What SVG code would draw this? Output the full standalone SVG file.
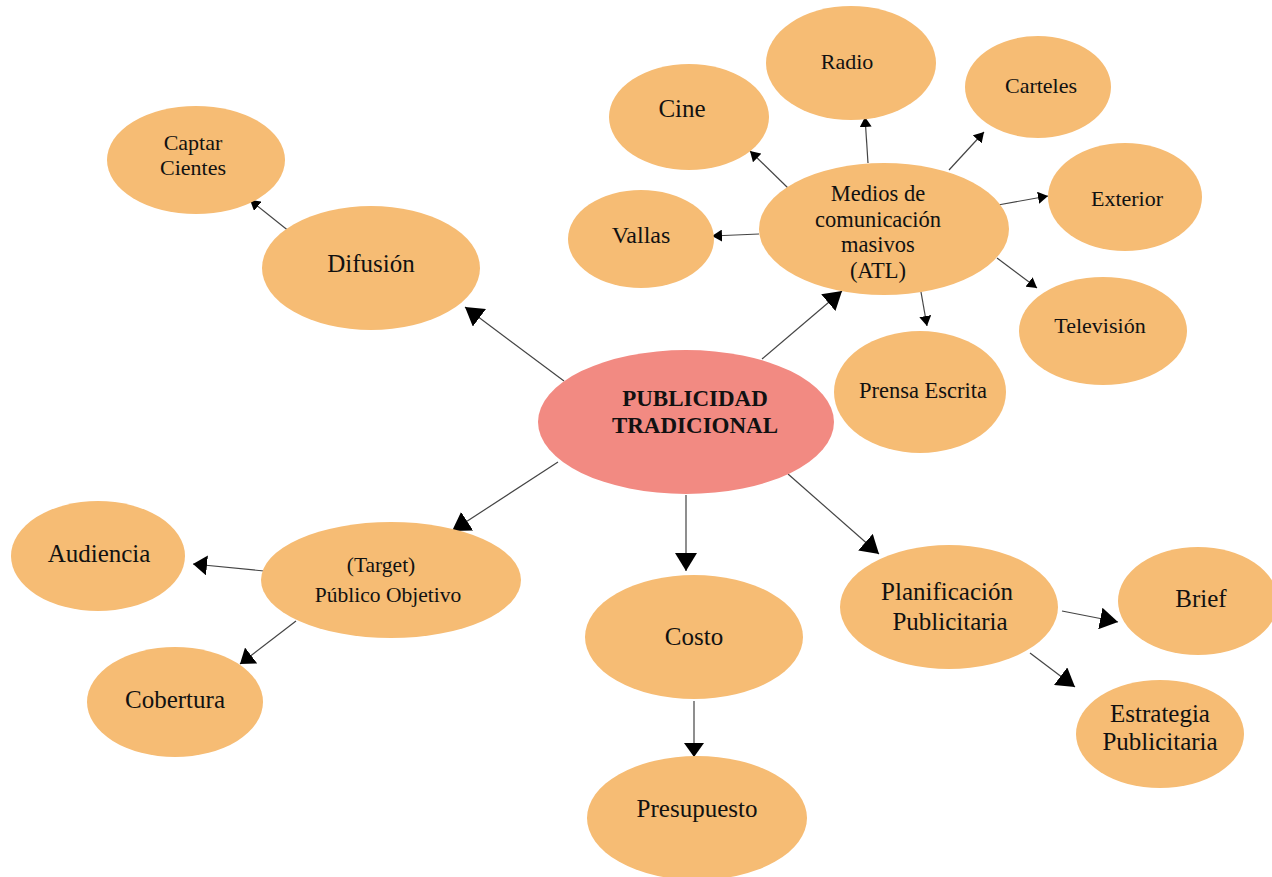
<svg xmlns="http://www.w3.org/2000/svg" width="1272" height="877" viewBox="0 0 1272 877">
<style>
.n{fill:#F6BC74;}
.c{fill:#F28A82;}
text{font-family:"Liberation Serif","Times New Roman",serif;fill:#111;text-anchor:middle;}
.t25{font-size:25px;}
.t22{font-size:22px;}
.t23{font-size:22.5px;}
.tb{font-size:23px;font-weight:bold;}
.e{stroke:#444;stroke-width:1.2;fill:none;}
.big{marker-end:url(#aBig);}
.mid{marker-end:url(#aMid);}
.sm{marker-end:url(#aSm);}
</style>
<defs>
<marker id="aBig" markerUnits="userSpaceOnUse" markerWidth="18" markerHeight="22" refX="18" refY="11" orient="auto"><path d="M0,0 L18,11 L0,22 Z" fill="#000"/></marker>
<marker id="aMid" markerUnits="userSpaceOnUse" markerWidth="14" markerHeight="20" refX="14" refY="10" orient="auto"><path d="M0,0 L14,10 L0,20 Z" fill="#000"/></marker>
<marker id="aSm" markerUnits="userSpaceOnUse" markerWidth="10" markerHeight="12" refX="10" refY="6" orient="auto"><path d="M0,0 L10,6 L0,12 Z" fill="#000"/></marker>
</defs>
<rect width="1272" height="877" fill="#fff"/>
<g id="connectors">
<line class="e big" x1="564" y1="381" x2="465" y2="307"/>
<line class="e big" x1="762" y1="359" x2="842" y2="291"/>
<line class="e big" x1="558" y1="462" x2="452" y2="531"/>
<line class="e big" x1="686" y1="495" x2="686" y2="571"/>
<line class="e big" x1="788" y1="474" x2="879" y2="554"/>
<line class="e mid" x1="694" y1="701" x2="694" y2="757"/>
<line class="e mid" x1="264" y1="571" x2="193" y2="564"/>
<line class="e mid" x1="296" y1="621" x2="240" y2="664"/>
<line class="e sm" x1="290" y1="232" x2="250" y2="200"/>
<line class="e sm" x1="788" y1="188" x2="750" y2="151"/>
<line class="e sm" x1="868" y1="163" x2="865" y2="117"/>
<line class="e sm" x1="949" y1="170" x2="984" y2="132"/>
<line class="e sm" x1="998" y1="205" x2="1048" y2="196"/>
<line class="e sm" x1="997" y1="258" x2="1037" y2="288"/>
<line class="e sm" x1="921" y1="292" x2="927" y2="326"/>
<line class="e sm" x1="759" y1="234" x2="712" y2="236"/>
<line class="e big" x1="1062" y1="611" x2="1118" y2="622"/>
<line class="e big" x1="1030" y1="653" x2="1075" y2="687"/>
</g>
<g id="center"><ellipse class="c" cx="686" cy="422" rx="148" ry="72"/><text class="tb" x="695" y="406">PUBLICIDAD</text><text class="tb" x="695" y="433">TRADICIONAL</text></g>
<g id="captar"><ellipse class="n" cx="196" cy="160" rx="89" ry="54"/><text class="t22" x="193" y="150">Captar</text><text class="t22" x="193" y="175">Cientes</text></g>
<g id="difusion"><ellipse class="n" cx="371" cy="268" rx="109" ry="62"/><text class="t25" x="371" y="272">Difusión</text></g>
<g id="cine"><ellipse class="n" cx="689" cy="117" rx="80" ry="53"/><text class="t25" x="682" y="117">Cine</text></g>
<g id="radio"><ellipse class="n" cx="851" cy="63" rx="85" ry="57"/><text class="t22" x="847" y="69">Radio</text></g>
<g id="carteles"><ellipse class="n" cx="1038" cy="87" rx="73" ry="51"/><text class="t22" x="1041" y="93">Carteles</text></g>
<g id="vallas"><ellipse class="n" cx="641" cy="239" rx="73" ry="49"/><text x="641" y="243" style="font-size:24px">Vallas</text></g>
<g id="medios"><ellipse class="n" cx="884" cy="229" rx="125" ry="66"/><text class="t23" x="878" y="201">Medios de</text><text class="t23" x="878" y="227">comunicación</text><text class="t23" x="878" y="252">masivos</text><text class="t23" x="878" y="278">(ATL)</text></g>
<g id="exterior"><ellipse class="n" cx="1125" cy="197" rx="77" ry="54"/><text class="t22" x="1127" y="206">Exterior</text></g>
<g id="television"><ellipse class="n" cx="1103" cy="331" rx="84" ry="54"/><text class="t22" x="1100" y="333">Televisión</text></g>
<g id="prensa"><ellipse class="n" cx="920" cy="392" rx="86" ry="61"/><text class="t23" x="923" y="398">Prensa Escrita</text></g>
<g id="audiencia"><ellipse class="n" cx="98" cy="556" rx="87" ry="55"/><text class="t25" x="99" y="562">Audiencia</text></g>
<g id="publico"><ellipse class="n" cx="391" cy="580" rx="130" ry="58"/><text x="381" y="572" style="font-size:21.5px">(Target)</text><text x="388" y="602" style="font-size:21.5px">Público Objetivo</text></g>
<g id="cobertura"><ellipse class="n" cx="175" cy="702" rx="88" ry="55"/><text class="t25" x="175" y="708">Cobertura</text></g>
<g id="costo"><ellipse class="n" cx="694" cy="637" rx="109" ry="62"/><text class="t25" x="694" y="645">Costo</text></g>
<g id="presupuesto"><ellipse class="n" cx="697" cy="818" rx="110" ry="62"/><text class="t25" x="697" y="817">Presupuesto</text></g>
<g id="planificacion"><ellipse class="n" cx="949" cy="607" rx="109" ry="62"/><text class="t25" x="947" y="600">Planificación</text><text class="t25" x="950" y="630">Publicitaria</text></g>
<g id="brief"><ellipse class="n" cx="1198" cy="601" rx="80" ry="54"/><text class="t25" x="1201" y="607">Brief</text></g>
<g id="estrategia"><ellipse class="n" cx="1160" cy="734" rx="84" ry="54"/><text class="t25" x="1160" y="722">Estrategia</text><text class="t25" x="1160" y="750">Publicitaria</text></g>
</svg>
